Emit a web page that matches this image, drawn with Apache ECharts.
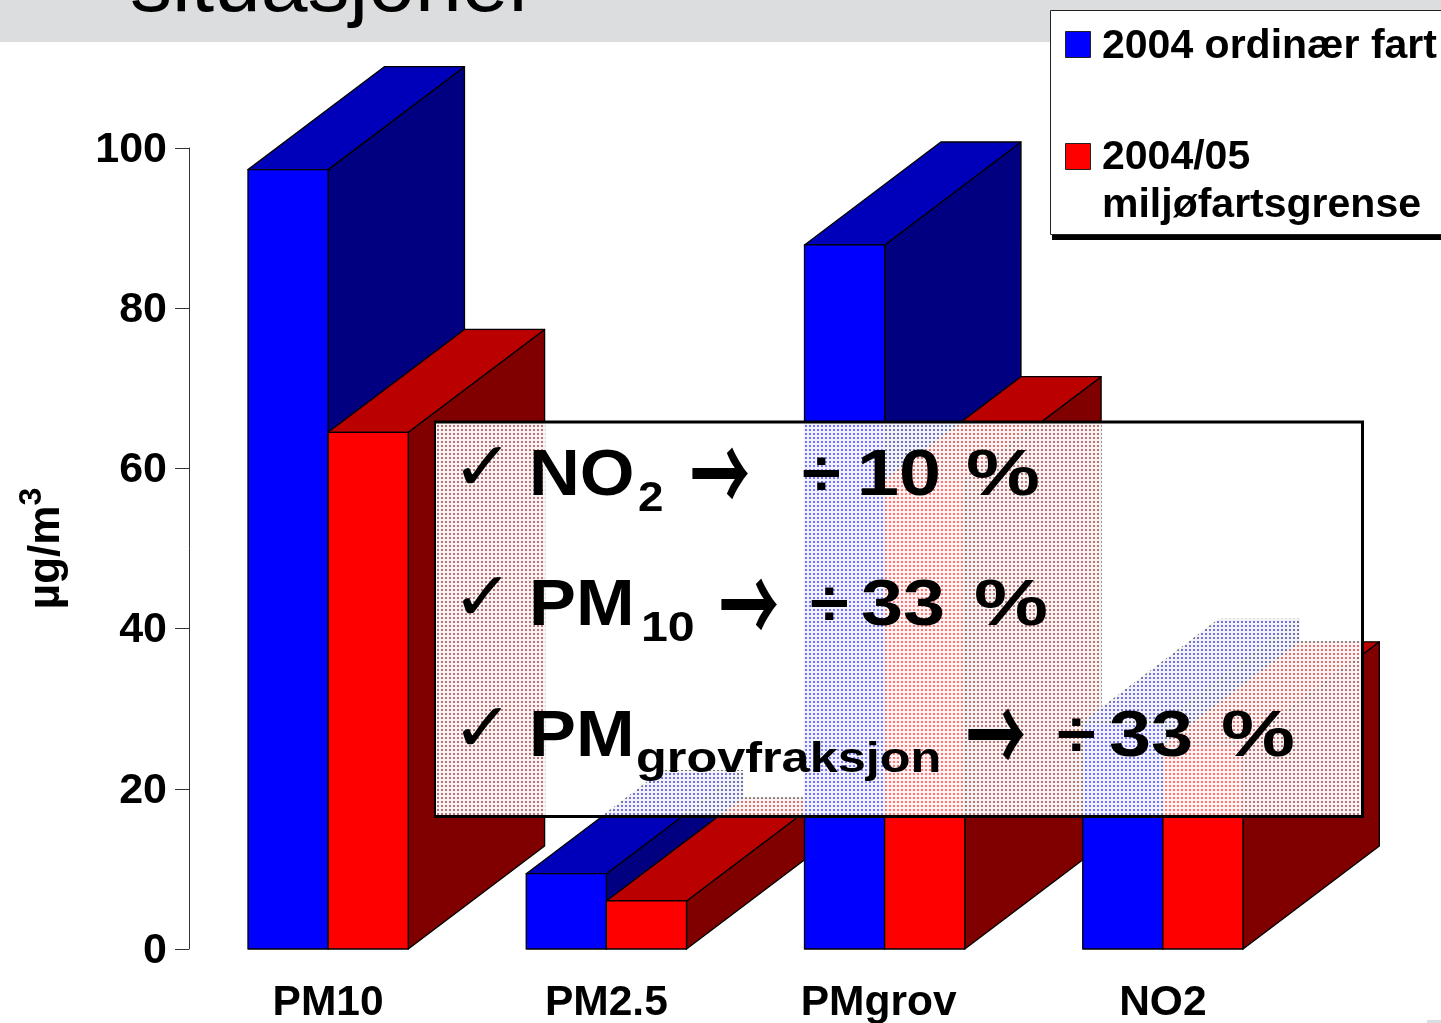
<!DOCTYPE html>
<html><head><meta charset="utf-8">
<script src="https://cdn.jsdelivr.net/npm/echarts@6/dist/echarts.min.js"></script>
<style>html,body{margin:0;padding:0;background:#fff;overflow:hidden}#c{width:1441px;height:1023px}</style>
</head><body><div id="c"></div>
<script>
const categories = ['PM10','PM2.5','PMgrov','NO2'];
const ordinaryValues = [97.3, 9.4, 87.9, 28.3];
const limitValues = [64.5, 6.0, 58.6, 25.5];
const yTicks = [0,20,40,60,80,100];
const seriesNames = ['2004 ordinær fart','2004/05 miljøfartsgrense'];
const titleText = 'situasjoner';

const palette = [
  {front:'#0000FF', top:'#0000BB', side:'#000080'},
  {front:'#FF0000', top:'#BB0000', side:'#800000'}
];
const FONT = '"Liberation Sans", Arial, sans-serif';

function bar3d(seriesIdx){
  return function(params, api){
    const cat = api.value(0);
    const p = api.coord([cat, api.value(1)]);
    const base = api.coord([cat, 0])[1];
    const band = api.size([1,0])[0];
    const w = band*0.288, dx = band*0.49, dy = dx*0.755;
    const x0 = seriesIdx===0 ? p[0]-w : p[0], x1 = x0+w, y = p[1];
    const c = palette[seriesIdx];
    const z = cat*10 + seriesIdx*3;
    const st = f => ({fill:f, stroke:'#000', lineWidth:1.3, lineJoin:'round'});
    return {type:'group', children:[
      {type:'polygon', z2:z+1, shape:{points:[[x1,y],[x1+dx,y-dy],[x1+dx,base-dy],[x1,base]]}, style:st(c.side)},
      {type:'polygon', z2:z+2, shape:{points:[[x0,y],[x0+dx,y-dy],[x1+dx,y-dy],[x1,y]]}, style:st(c.top)},
      {type:'polygon', z2:z+3, shape:{points:[[x0,y],[x1,y],[x1,base],[x0,base]]}, style:st(c.front)}
    ]};
  };
}

function stipple(){
  const s=4, cv=document.createElement('canvas'); cv.width=s; cv.height=s;
  const g=cv.getContext('2d');
  g.fillStyle='rgba(255,255,255,0.95)'; g.fillRect(0,0,s,s);
  g.clearRect(1,1,2,2);
  g.fillStyle='rgba(255,255,255,0.45)'; g.fillRect(1,1,2,2);
  return cv;
}

function txt(text,x,y,size,opts){
  opts=opts||{};
  return {type:'text', x:x, y:y, scaleX:opts.sx||1, scaleY:opts.sy||1, z:opts.z||110,
    style:{text:text, fill:'#000', textAlign:'left', textVerticalAlign:'bottom',
      font:(opts.weight||'bold')+' '+size+'px '+(opts.family||FONT)}};
}
const CHECK_FONT='"DejaVu Sans"';
const ARROW_FONT='"Noto Sans CJK JP"';
const lines=[
 {main:'NO', sub:'2', subX:638, subSx:1.09, arrow:693, div:803, num:'10', numX:858, pctX:967, y:0},
 {main:'PM', sub:'10', subX:641, subSx:1.15, arrow:722, div:811, num:'33', numX:862, pctX:975, y:130.5},
 {main:'PM', sub:'grovfraksjon', subX:636, subSx:1.2, arrow:969, div:1058, num:'33', numX:1110, pctX:1222, y:261}
];
function overlayText(){
  const out=[];
  lines.forEach(l=>{
    const b=509+l.y;
    out.push(txt('✓',452,b-3,68,{family:CHECK_FONT,weight:'bold',sx:1.08}));
    out.push(txt(l.main,529,b,64,{sx:1.1}));
    out.push(txt(l.sub,l.subX,b+11,42,{sx:l.subSx}));
    out.push(txt('→',l.arrow-3,b+18,60,{family:ARROW_FONT,weight:'bold',sy:1.8}));
    out.push(txt('÷',l.div-1,b,64,{sx:1.1}));
    out.push(txt(l.num,l.numX-1,b,64,{sx:1.18}));
    out.push(txt('%',l.pctX-1,b,64,{sx:1.3}));
  });
  return out;
}

const chart=echarts.init(document.getElementById('c'),null,{renderer:'canvas'});
chart.setOption({
  animation:false,
  backgroundColor:'#fff',
  grid:{left:189,top:148,width:1113,height:801,containLabel:false,outerBoundsMode:'none'},
  xAxis:{type:'category',
    data:categories.map(c=>c==='PMgrov'?{value:c,textStyle:{padding:[0,12,0,0]}}:c),
    axisLine:{show:false},axisTick:{show:false},
    axisLabel:{color:'#000',fontFamily:FONT,fontWeight:'bold',fontSize:42.5,margin:33,interval:0}},
  yAxis:{type:'value',min:0,max:100,interval:20,
    axisLine:{show:true,lineStyle:{color:'#333',width:1}},
    axisTick:{show:true,length:14,lineStyle:{color:'#333',width:1}},
    splitLine:{show:false},
    axisLabel:{color:'#000',margin:22,
      formatter:v=>yTicks.includes(v)?'{t|'+v+'}':'',
      rich:{t:{color:'#000',fontFamily:FONT,fontWeight:'bold',fontSize:43,padding:[4,0,0,0]}}},
    name:'µg/m{sup|3}',nameLocation:'middle',nameGap:111,nameRotate:90,
    nameTextStyle:{color:'#000',fontFamily:FONT,fontWeight:'bold',fontSize:44,
      rich:{sup:{fontFamily:FONT,fontWeight:'bold',fontSize:32,color:'#000',padding:[0,0,30,0]}}}},
  series:[ordinaryValues,limitValues].map((vals,i)=>({
    type:'custom',name:seriesNames[i],coordinateSystem:'cartesian2d',clip:false,
    renderItem:bar3d(i),encode:{x:0,y:1},silent:true,
    data:vals.map((v,k)=>[k,v])
  })),
  graphic:{elements:[
    {type:'rect',z:1,shape:{x:0,y:0,width:1441,height:42},style:{fill:'#DCDDDF'},silent:true},
    {type:'rect',z:1,shape:{x:1427,y:1020,width:14,height:3},style:{fill:'#D8DDE2'},silent:true},
    txt(titleText,130,29,82,{weight:'normal',z:2,sx:1.025}),
    {type:'rect',z:50,shape:{x:1052,y:12,width:400,height:228},style:{fill:'#000'}},
    {type:'rect',z:51,shape:{x:1050.5,y:10.5,width:400,height:224},style:{fill:'#fff',stroke:'#222',lineWidth:1}},
    {type:'rect',z:52,shape:{x:1065.5,y:31.5,width:25,height:26},style:{fill:palette[0].front,stroke:'#222',lineWidth:1}},
    {type:'rect',z:52,shape:{x:1065.5,y:143.5,width:25,height:26},style:{fill:palette[1].front,stroke:'#222',lineWidth:1}},
    txt(seriesNames[0],1102,67,41,{z:53}),
    txt(seriesNames[1].split(' ')[0],1102,178,41,{z:53}),
    txt(seriesNames[1].split(' ')[1],1102,226,41,{z:53}),
    {type:'rect',z:100,shape:{x:435,y:422,width:928,height:395},style:{fill:{image:stipple(),repeat:'repeat'},stroke:null}},
    {type:'polyline',z:101,shape:{points:[[435,422],[435,816.5]]},style:{stroke:'#000',lineWidth:2,fill:null}},
    {type:'polyline',z:101,shape:{points:[[434,422],[1362.5,422],[1362.5,816.5],[434,816.5]]},style:{stroke:'#000',lineWidth:3,fill:null}}
  ].concat(overlayText())}
});
</script></body></html>
